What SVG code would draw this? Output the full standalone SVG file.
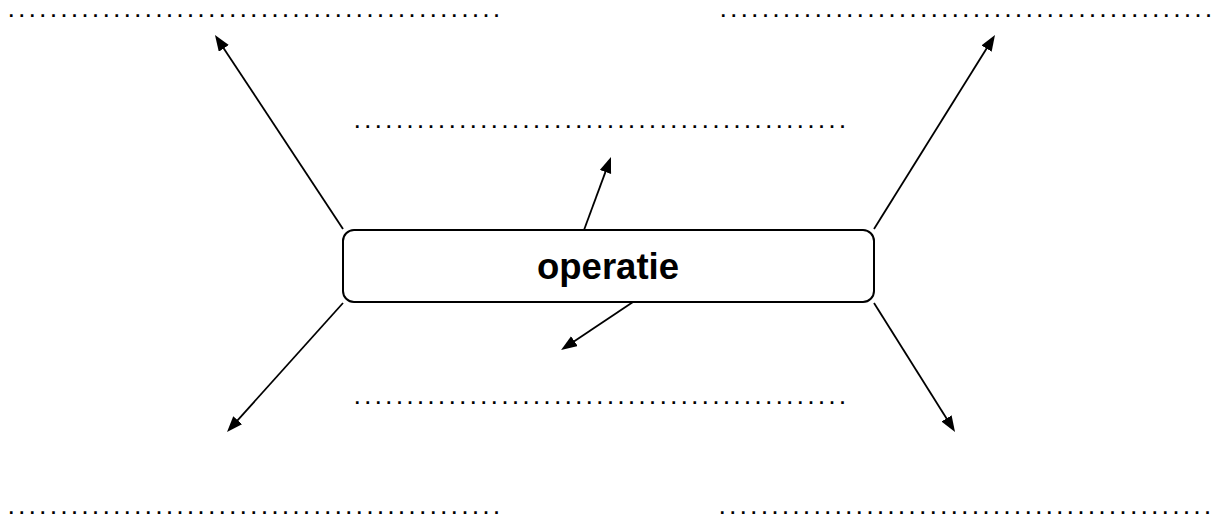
<svg xmlns="http://www.w3.org/2000/svg" width="1213" height="519" viewBox="0 0 1213 519">
<style>
.dots{font-family:"Liberation Sans",Arial,sans-serif;font-size:18px;font-weight:bold;letter-spacing:5.55px;fill:#000}
.end{letter-spacing:0}
.lbl{font-family:"Liberation Sans",Arial,sans-serif;font-size:36.5px;font-weight:bold;fill:#000}
.box{fill:#fff;stroke:#000;stroke-width:2}
.conn{stroke:#000;stroke-width:1.8;fill:none;marker-end:url(#ah)}
</style>
<defs>
<marker id="ah" markerUnits="userSpaceOnUse" markerWidth="18" markerHeight="14" refX="6" refY="6" orient="auto">
<path d="M0,0 L16,6 L0,12 z" fill="#000"/>
</marker>
</defs>
<rect width="1213" height="519" fill="#fff"/>
<g id="blank-top-left"><text class="dots" x="8.7" y="16.5">..............................................<tspan class="end">.</tspan></text></g>
<g id="blank-top-right"><text class="dots" x="720.7" y="16.5">..............................................<tspan class="end">.</tspan></text></g>
<g id="blank-mid-top"><text class="dots" x="354.7" y="128">..............................................<tspan class="end">.</tspan></text></g>
<g id="blank-mid-bottom"><text class="dots" x="354.7" y="404.3">..............................................<tspan class="end">.</tspan></text></g>
<g id="blank-bottom-left"><text class="dots" x="8.7" y="514.3">..............................................<tspan class="end">.</tspan></text></g>
<g id="blank-bottom-right"><text class="dots" x="719.7" y="514.3">..............................................<tspan class="end">.</tspan></text></g>
<g id="connectors">
<line class="conn" x1="343" y1="229" x2="220.5" y2="43.4"/>
<line class="conn" x1="874" y1="229" x2="989.7" y2="43.5"/>
<line class="conn" x1="343" y1="303" x2="233.7" y2="424.6"/>
<line class="conn" x1="874" y1="303" x2="949.7" y2="423.5"/>
<line class="conn" x1="584" y1="230" x2="607.5" y2="166.4"/>
<line class="conn" x1="633" y1="302" x2="569.4" y2="344.5"/>
</g>
<g id="operatie">
<rect class="box" x="343" y="230" width="531" height="72" rx="11"/>
<text class="lbl" x="608" y="279" text-anchor="middle">operatie</text>
</g>
</svg>
